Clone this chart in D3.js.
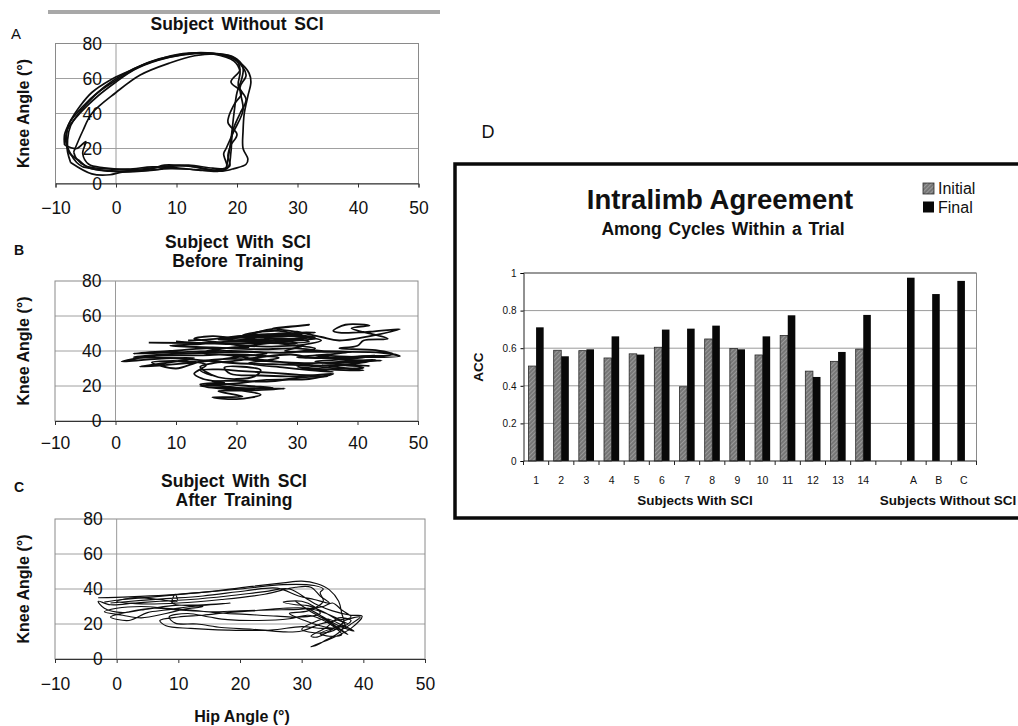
<!DOCTYPE html>
<html>
<head>
<meta charset="utf-8">
<script src="https://cdn.jsdelivr.net/npm/d3@7"></script>
<style>
  html, body { margin: 0; padding: 0; background: #fff; }
  svg { display: block; font-family: "Liberation Sans", Arial, sans-serif; }
</style>
</head>
<body>
<svg id="fig" width="1018" height="726"></svg>
<script>
// ---------- Hip-knee angle-angle traces (hip °, knee °) ----------
const hipTicks = [-10, 0, 10, 20, 30, 40, 50];
const kneeTicks = [0, 20, 40, 60, 80];

// A: subject without SCI, several step cycles
const cyclesNoSCI = [
  [[-5.5,9.5],[-2,7.5],[2,7.2],[6,8.5],[8,10.5],[11,10.2],[14,9],[16.5,7.5],[18,8],[18.5,14],[19,25],[19.5,40],[20,52],[20.8,60],[21,66],[20,71],[18,73.5],[15,74.5],[11,73.5],[7,70.5],[3,65],[0,58],[-3,50],[-6,40],[-8,31],[-8.3,24],[-7.5,17],[-6.5,12],[-5.5,9.5]],
  [[-6,13],[-4.5,9],[-1,7],[3,6.8],[7,8],[9,9.8],[12,10],[15,8],[17.5,7],[19.5,8.5],[21.5,11],[21.8,14],[21,20],[21,30],[21.2,40],[21.8,50],[22.3,58],[22,63],[20.5,69],[18,73],[14,74.8],[10,73],[5,68.5],[1,62],[-2,55],[-5,45],[-7.5,33],[-8,25],[-7.8,18],[-6,13]],
  [[-7,18],[-5.5,30],[-4,40],[0,52],[4,62],[9,69],[13,73],[17,74],[19.5,72],[20.5,65],[19,58],[20.8,52],[19.5,45],[18.5,35],[20,28],[19,22],[18.5,16],[18.8,10],[17,8],[14,7.5],[10,9],[6,9.5],[2,8.2],[-2,8.5],[-5,10],[-6.5,14],[-7,18]],
  [[-8.5,22],[-6.5,20],[-5,24],[-5.5,17],[-4.5,11],[-2,9],[3,8],[8,9.8],[12,10.5],[16,8.8],[18.3,9],[17.8,17],[18.2,20],[19.5,30],[21,42],[20.5,55],[21.5,62],[20,70],[17,73.8],[12,74.2],[6,70],[2,64],[-1,59],[-4,52],[-6,44],[-7.5,36],[-8.5,28],[-8.5,22]],
  [[-7.5,12],[-4,5.5],[-1,5],[1,6.5],[5,7.5],[9,8.5],[13,8],[17,7],[18.5,9],[19,18],[19.3,30],[20.5,40],[21.5,48],[20.2,56],[20.5,64],[19.5,70],[16,74],[12,74.5],[8,72],[4,67],[0.5,60],[-3,52],[-5.5,44],[-7.8,34],[-8.2,26],[-8,18],[-7.5,12]]
];

// B: subject with SCI before training
const traceBefore = [
  [5.5,44.8],[32,45.2],[29,47],[20,46],[26,48.5],[31,49],[22,47.5],[27,50],[33,50.5],[24,48],[30,46],[19,44],[25,42.5],[31,43],[28,40],[35,39.5],[44,39],[47,37],[40,36.5],[33,37.5],[38,35],[44,34.5],[36,33],[42,31.5],[34,32],[41,29],[35,29.5],[30,31],[36,28],[28,30.5],[22,33],[27,36],[20,38],[14,37.5],[6,37],[1,34],[7,35.5],[13,36],[8,33],[4,31],[10,32.5],[17,35],[21,37],[25,38.5],[19,40],[12,39.5],[3,38.5],[9,40],[15,41.5],[22,42],[18,44.5],[13,47],[16,48.5],[20,47.8],[25,52],[28,53.5],[32,55],[29,54],[26,53],[30,51],[34,48],[37,46],[47,52.5],[42,51],[37,50.5],[36,51.5],[38,55],[42,54.5],[39,53],[45,47],[41,46],[40,43],[37,41.5],[43,40.5],[46,38],[41,37],[33,36],[29,38],[24,36.5],[20,34.5],[16,33],[14,31],[15,28],[17,25],[20,24],[23,25.5],[24,29],[21,31],[18,30.5],[19,27],[24,26],[30,25.5],[36,27],[32,24],[25,23.5],[20,21.5],[14,20],[18,19],[25,18.5],[28,18.5],[23,17.5],[17,17],[21,14],[16,13.5],[20,12.5],[24,15],[20,17.8],[15,19.5],[14,21],[18,22],[14.5,24],[13,27],[15,32],[12,34],[6,33.5],[10,30],[14,34],[19,35.5],[26,34],[32,33],[38,34],[43,35],[40,33],[35,31.5],[29,33],[24,35],[19,37.5],[14,39],[17,41],[23,43.5],[28,45.5],[33,47],[26,49],[20,48],[15,46.5],[12,46]
];
const traceBefore2 = [
  [10,45.5],[20,44],[28,46.5],[33,48],[24,49.5],[18,47],[23,45],[30,44.5],[26,47.2],[21,49],[27,51.5],[31,47.5],[25,46],[19,45.5],[14,44],[9,43],[16,42],[24,41],[30,41.5],[34,40],[39,39.5],[35,38],[30,36.5],[37,36],[43,37.5],[39,35.5],[33,34],[38,32],[41,30.5],[37,30],[32,31.5],[26,32.5],[20,33],[15,34.5],[9,36],[3,36.5],[8,38],[15,39],[22,39.5],[28,39],[33,41.5],[29,43.5],[22,46],[17,46.5],[23,48],[29,48.5],[34,46],[30,43]
];
const traceBefore3 = [
  [15,21],[19,19.5],[22,18.5],[26,19],[22,20],[18,21.2],[16,22.5],[20,23],[25,22.5],[31,25],[35,25.5],[30,26.5],[26,27.5],[21,28.5],[17,29.5],[14,29],[16,26]
];

// C: subject with SCI after training
const traceAfter = [
  [-3,35],[2,35.5],[8,36.5],[15,38.5],[22,41.5],[27,43.5],[30,44.5],[32.5,43],[34.5,39.5],[36,33],[36.5,26],[36.8,21],[35,17],[32.5,12.5],[31.5,13],[34,18],[36,23.5],[38,22],[37,19],[33.5,17.5],[30,18.5],[25,16.5],[18,16.5],[12,17.5],[8,19],[7,22],[10,24],[14,25],[18,26.5],[22,27.5],[27,29],[31,29],[34,26],[37,20],[36,15],[34,11],[32.5,8],[31.5,7],[35,12],[38,17.5],[39.8,24.5],[38,25],[35,27.5],[32.5,31],[31,34],[28,40],[24,38.5],[18,36],[12,34],[7,33],[3,32],[-1,31],[-3,33],[-2,29],[1,26.5],[4,28],[9,30.5],[14,31],[18.5,32],[12,30],[8,28],[5,26.5],[2,22],[-1,24],[2,27],[6,29],[10,28],[15,27],[20,27.5],[25,28],[30,28.5],[33.5,30],[35,32],[36.5,28],[38,24],[35.5,22],[33,20],[30,16],[27,15.5],[22,17],[17,18],[13,20],[9.5,20.5],[8.5,24],[11.5,26],[15,24],[18,22.5],[23,22],[28,23],[31,25],[33,23],[35,19],[36.5,14],[34.5,13],[33,14.5],[35.5,18],[37.5,20],[36,22],[33.5,27],[31,30.5],[29,31],[27,32.5],[30,33],[32,30],[33,26],[30,24],[26,24.5],[21,25.5],[16,26.5],[12,28],[8,29],[4,30],[0,29],[-2,27],[1,25],[4,23.5],[8,26],[11,28.5],[14,30],[9,32],[9.5,37],[9.8,33],[7,34],[3,35],[0,33],[4,31.5],[10,32],[17,34],[24,37],[29,41],[31.5,41],[33,36],[34.5,32],[32,34],[29.5,36],[26,40.5],[21,39],[14,36],[8,34.5],[4,33.5],[-1,32]
];
const traceAfter2 = [
  [29,33],[31.5,27],[34,22],[36,17],[37.5,14],[35,20],[33,25],[31,29],[33.5,24],[36,19],[38.5,16],[36.5,19.5],[34,23],[32,21],[30,17],[32,15],[34.5,15.5],[36,18],[37,22],[39.5,24],[38,20],[36.5,17],[33,19],[30.5,22],[28,26],[31,27.5],[33.5,33],[33,38],[33.5,40],[32,42],[27,42.5],[20,40],[12,37.5],[6,35.5],[1,34],[-2,32.5]
];

// ---------- Intralimb agreement (ACC) ----------
const subjects = ["1","2","3","4","5","6","7","8","9","10","11","12","13","14"," ","A","B","C"];
const sciSubjects = subjects.slice(0, 14);
const controlSubjects = ["A","B","C"];
const accInitial = [0.505,0.589,0.587,0.548,0.570,0.605,0.395,0.649,0.598,0.564,0.668,0.478,0.530,0.595];
const accFinal   = [0.711,0.557,0.594,0.663,0.566,0.699,0.704,0.720,0.594,0.663,0.775,0.447,0.580,0.777];
const accControl = [0.975,0.888,0.958];
const accTicks = [0, 0.2, 0.4, 0.6, 0.8, 1];

const svg = d3.select("#fig");
const FONT = '"Liberation Sans", Arial, sans-serif';

// thin grey rule across the top of panel A
svg.append("rect").attr("x", 48).attr("y", 10).attr("width", 392).attr("height", 4).attr("fill", "#a8a8a8");

function loopPanel(opt) {
  const g = svg.append("g");
  const x = d3.scaleLinear().domain([-10, 50]).range(opt.xr);
  const y = d3.scaleLinear().domain([0, 80]).range(opt.yr);

  // gridlines
  g.selectAll("line.grid").data(kneeTicks.filter(d => d > 0 && d < 80)).join("line")
    .attr("x1", x(-10)).attr("x2", x(50)).attr("y1", d => y(d)).attr("y2", d => y(d))
    .attr("stroke", "#a0a0a0").attr("stroke-width", 1);
  // plot frame
  g.append("rect").attr("x", x(-10)).attr("y", y(80)).attr("width", x(50) - x(-10)).attr("height", y(0) - y(80))
    .attr("fill", "none").attr("stroke", "#8a8a8a").attr("stroke-width", 1);
  // vertical axis at hip = 0
  g.append("line").attr("x1", x(0)).attr("x2", x(0)).attr("y1", y(80)).attr("y2", y(0))
    .attr("stroke", "#9a9a9a").attr("stroke-width", 1);

  // horizontal axis
  const xa = g.append("g").attr("transform", `translate(0,${y(0)})`)
    .call(d3.axisBottom(x).tickValues(hipTicks).tickSize(4).tickPadding(opt.xPad).tickFormat(d3.format("d")));
  xa.select(".domain").attr("stroke", "#333");
  xa.selectAll(".tick line").attr("stroke", "#333");
  xa.selectAll("text").attr("font-family", FONT).attr("font-size", 17.5).attr("fill", "#111");

  // knee tick labels beside the axis at hip = 0
  g.selectAll("text.ky").data(kneeTicks).join("text")
    .attr("x", x(0) - 14).attr("y", d => y(d)).attr("dy", "0.36em")
    .attr("text-anchor", "end").attr("font-family", FONT).attr("font-size", 17.5).attr("fill", "#111")
    .text(d => d);

  // traces
  const line = d3.line().x(d => x(d[0])).y(d => y(d[1])).curve(d3.curveCatmullRom.alpha(0.5));
  g.selectAll("path.trace").data(opt.traces).join("path")
    .attr("d", line).attr("fill", "none").attr("stroke", "#0d0d0d")
    .attr("stroke-width", opt.lw).attr("stroke-linejoin", "round");

  // axis title
  const cy = (y(0) + y(80)) / 2;
  g.append("text").attr("transform", `translate(29,${cy}) rotate(-90)`)
    .attr("text-anchor", "middle").attr("font-family", FONT).attr("font-weight", "bold")
    .attr("font-size", 16).attr("fill", "#111").text("Knee Angle (°)");

  // title lines
  opt.title.forEach((t, i) => {
    g.append("text").attr("x", opt.tx).attr("y", opt.ty + i * 19)
      .attr("text-anchor", "middle").attr("font-family", FONT).attr("font-weight", "bold")
      .attr("font-size", 17.5).attr("word-spacing", "3px").attr("fill", "#111").text(t);
  });
  // panel letter
  g.append("text").attr("x", opt.lx).attr("y", opt.ly).attr("text-anchor", "middle")
    .attr("font-family", FONT).attr("font-weight", opt.lBold ? "bold" : "normal")
    .attr("font-size", opt.lSize).attr("fill", "#111").text(opt.letter);
  return { x, y };
}

loopPanel({ xr: [55.5, 418.5], yr: [183.5, 43.5], traces: cyclesNoSCI, lw: 1.7, xPad: 14,
  title: ["Subject Without SCI"], tx: 237, ty: 30, letter: "A", lx: 16, ly: 39, lSize: 15, lBold: false });
loopPanel({ xr: [55, 418], yr: [421, 281], traces: [traceBefore, traceBefore2, traceBefore3], lw: 1.8, xPad: 12,
  title: ["Subject With SCI", "Before Training"], tx: 238, ty: 248, letter: "B", lx: 19, ly: 255, lSize: 14, lBold: true });
loopPanel({ xr: [55, 425], yr: [659, 519], traces: [traceAfter, traceAfter2], lw: 1.15, xPad: 15,
  title: ["Subject With SCI", "After Training"], tx: 234, ty: 487, letter: "C", lx: 19, ly: 492, lSize: 14, lBold: true });

svg.append("text").attr("x", 242).attr("y", 722).attr("text-anchor", "middle")
  .attr("font-family", FONT).attr("font-weight", "bold").attr("font-size", 16).attr("fill", "#111")
  .text("Hip Angle (°)");

// ---------- Panel D: bar chart ----------
svg.append("text").attr("x", 488).attr("y", 138).attr("text-anchor", "middle")
  .attr("font-family", FONT).attr("font-size", 18).attr("fill", "#111").text("D");

svg.append("rect").attr("x", 455).attr("y", 164).attr("width", 600).attr("height", 354)
  .attr("fill", "none").attr("stroke", "#0a0a0a").attr("stroke-width", 3.5);

const defs = svg.append("defs");
const pat = defs.append("pattern").attr("id", "hatch").attr("patternUnits", "userSpaceOnUse")
  .attr("width", 3).attr("height", 3).attr("patternTransform", "rotate(45)");
pat.append("rect").attr("width", 3).attr("height", 3).attr("fill", "#767676");
pat.append("line").attr("x1", 0).attr("y1", 0).attr("x2", 0).attr("y2", 3)
  .attr("stroke", "#bdbdbd").attr("stroke-width", 1);

const bx = d3.scaleBand().domain(subjects).range([523.5, 976.5]).padding(0);
const bs = d3.scaleBand().domain(["Initial", "Final"]).range([0, bx.bandwidth()]).paddingOuter(0.66).paddingInner(0);
const by = d3.scaleLinear().domain([0, 1]).range([461, 273]);

const gd = svg.append("g");
gd.selectAll("line.g").data(accTicks.filter(d => d > 0 && d < 1)).join("line")
  .attr("x1", bx.range()[0]).attr("x2", bx.range()[1]).attr("y1", d => by(d)).attr("y2", d => by(d))
  .attr("stroke", "#9a9a9a").attr("stroke-width", 1);
gd.append("line").attr("x1", bx.range()[0]).attr("x2", bx.range()[1]).attr("y1", by(1)).attr("y2", by(1))
  .attr("stroke", "#333").attr("stroke-width", 1.2);
gd.append("line").attr("x1", bx.range()[1]).attr("x2", bx.range()[1]).attr("y1", by(1)).attr("y2", by(0))
  .attr("stroke", "#8a8a8a").attr("stroke-width", 1);

// bars
gd.selectAll("rect.ini").data(sciSubjects).join("rect")
  .attr("x", d => bx(d) + bs("Initial")).attr("width", bs.bandwidth())
  .attr("y", (d, i) => by(accInitial[i])).attr("height", (d, i) => by(0) - by(accInitial[i]))
  .attr("fill", "url(#hatch)").attr("stroke", "#2a2a2a").attr("stroke-width", 0.8);
gd.selectAll("rect.fin").data(sciSubjects).join("rect")
  .attr("x", d => bx(d) + bs("Final")).attr("width", bs.bandwidth())
  .attr("y", (d, i) => by(accFinal[i])).attr("height", (d, i) => by(0) - by(accFinal[i]))
  .attr("fill", "#080808");
gd.selectAll("rect.ctl").data(controlSubjects).join("rect")
  .attr("x", d => bx(d) + bs("Initial") + 1).attr("width", bs.bandwidth())
  .attr("y", (d, i) => by(accControl[i])).attr("height", (d, i) => by(0) - by(accControl[i]))
  .attr("fill", "#080808");

// axes
const ya = gd.append("g").attr("transform", `translate(${bx.range()[0]},0)`)
  .call(d3.axisLeft(by).tickValues(accTicks).tickSize(3).tickPadding(4).tickFormat(d => d));
ya.select(".domain").attr("stroke", "#222");
ya.selectAll("text").attr("font-family", FONT).attr("font-size", 10).attr("fill", "#111");

const xb = gd.append("g").attr("transform", `translate(0,${by(0)})`);
xb.append("line").attr("x1", bx.range()[0]).attr("x2", bx.range()[1]).attr("stroke", "#222");
xb.selectAll("line.t").data(subjects.concat(["end"])).join("line")
  .attr("x1", (d, i) => bx.range()[0] + i * bx.step()).attr("x2", (d, i) => bx.range()[0] + i * bx.step())
  .attr("y1", 0).attr("y2", 4).attr("stroke", "#222");
xb.selectAll("text").data(subjects).join("text")
  .attr("x", d => bx(d) + bx.bandwidth() / 2).attr("y", 23)
  .attr("text-anchor", "middle").attr("font-family", FONT).attr("font-size", 10.5).attr("fill", "#111")
  .text(d => d);

gd.append("text").attr("transform", "translate(483,367) rotate(-90)").attr("text-anchor", "middle")
  .attr("font-family", FONT).attr("font-weight", "bold").attr("font-size", 13.5).attr("fill", "#111").text("ACC");

gd.append("text").attr("x", 695).attr("y", 505).attr("text-anchor", "middle")
  .attr("font-family", FONT).attr("font-weight", "bold").attr("font-size", 13.5).attr("fill", "#111").text("Subjects With SCI");
gd.append("text").attr("x", 948).attr("y", 505).attr("text-anchor", "middle")
  .attr("font-family", FONT).attr("font-weight", "bold").attr("font-size", 13.5).attr("fill", "#111").text("Subjects Without SCI");

gd.append("text").attr("x", 720).attr("y", 209).attr("text-anchor", "middle")
  .attr("font-family", FONT).attr("font-weight", "bold").attr("font-size", 27.5).attr("fill", "#111").text("Intralimb Agreement");
gd.append("text").attr("x", 723).attr("y", 235).attr("text-anchor", "middle")
  .attr("font-family", FONT).attr("font-weight", "bold").attr("font-size", 17.5).attr("word-spacing", "2px").attr("fill", "#111").text("Among Cycles Within a Trial");

// legend
const legend = [{ name: "Initial", fill: "url(#hatch)", stroke: "#2a2a2a" }, { name: "Final", fill: "#080808", stroke: "none" }];
const lg = gd.selectAll("g.leg").data(legend).join("g")
  .attr("transform", (d, i) => `translate(923,${183 + i * 18.5})`);
lg.append("rect").attr("width", 11).attr("height", 11).attr("fill", d => d.fill).attr("stroke", d => d.stroke).attr("stroke-width", 0.8);
lg.append("text").attr("x", 15).attr("y", 11).attr("font-family", FONT).attr("font-size", 16).attr("fill", "#111").text(d => d.name);
</script>
</body>
</html>
